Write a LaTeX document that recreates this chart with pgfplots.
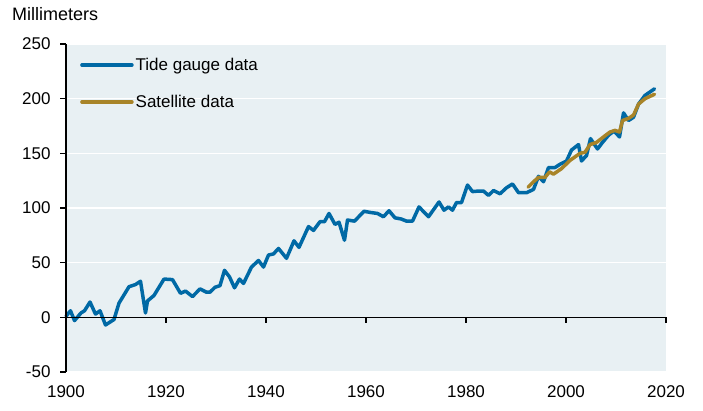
\documentclass[border=0pt]{standalone}
\usepackage{pgfplots}
\pgfplotsset{compat=1.18}
\usepackage{fontspec}
\setmainfont{Liberation Sans}
\usetikzlibrary{calc}
\definecolor{tideblue}{RGB}{0,105,165}
\definecolor{satgold}{RGB}{168,132,40}
\definecolor{bgblue}{RGB}{232,240,243}
\begin{document}
\begin{tikzpicture}
\begin{axis}[
  name=ax,
  scale only axis,
  width=600pt, height=328pt,
  xmin=1900, xmax=2020, ymin=-50, ymax=250,
  xtick={1900,1920,...,2020},
  ytick={-50,0,...,250},
  /pgf/number format/assume math mode=true,
  /pgf/number format/1000 sep={},
  axis x line*=bottom,
  axis y line*=left,
  x axis line style={draw=none},
  y axis line style={draw=none},
  xtick style={draw=none},
  ytick style={draw=none},
  ymajorgrids,
  grid style={white, line width=1.5pt},
  axis background/.style={fill=bgblue},
  tick label style={font=\fontsize{17}{20}\selectfont, text=black},
  y tick label style={anchor=east, xshift=-12pt},
  x tick label style={anchor=north, yshift=-10pt},
  legend style={draw=none, fill=none, at={(0,1)}, anchor=north west,
    xshift=14pt, yshift=-12pt, font=\fontsize{17}{20}\selectfont,
    row sep=19pt, inner sep=0pt},
  legend cell align=left,
  legend image code/.code={\draw[#1, line width=3.5pt] (0pt,0pt) -- (50pt,0pt);},
  clip=false,
]
\addplot[tideblue, line width=3.5pt, line join=round, line cap=round] coordinates {
(1900.0,1) (1900.9,6) (1901.7,-3) (1903.0,4) (1903.7,6) (1904.8,14) (1905.9,3)
(1906.8,6) (1907.9,-7) (1909.6,-2) (1910.6,13) (1912.6,28) (1913.9,30) (1914.9,33)
(1915.9,4) (1916.3,15) (1917.6,20) (1919.6,35) (1921.3,34.5) (1922.9,22) (1923.9,24)
(1925.3,19) (1926.8,26) (1928.1,23) (1928.8,23) (1929.8,27.5) (1930.8,29) (1931.7,43)
(1932.7,37) (1933.7,27) (1934.7,35) (1935.5,31) (1937.1,46) (1938.5,52) (1939.5,46)
(1940.5,57) (1941.5,58) (1942.5,63) (1944.1,54) (1945.6,70) (1946.6,64) (1948.5,83)
(1949.5,79.5) (1950.8,87.5) (1951.7,87.5) (1952.6,95) (1953.8,85) (1954.6,87)
(1955.7,70.5) (1956.3,89) (1957.7,88) (1959.6,97) (1960.8,96) (1962.3,95) (1963.5,92)
(1964.6,97.5) (1965.8,91) (1967.0,90) (1968.1,88) (1969.3,88) (1970.6,101) (1972.5,92)
(1974.6,105.5) (1975.6,98) (1976.5,101) (1977.3,98) (1978.1,105) (1979.1,105)
(1980.3,121) (1981.3,115) (1982.5,115.5) (1983.5,115.5) (1984.5,111.5) (1985.5,116)
(1986.8,113) (1988.1,118.5) (1989.3,122) (1990.5,114) (1992.1,114) (1993.5,117)
(1994.5,129) (1995.5,124) (1996.5,137) (1997.8,137) (1998.8,140) (2000.1,143)
(2001.1,153) (2002.5,158) (2003.1,143) (2004.1,148) (2004.9,163.5) (2006.3,154)
(2007.3,160) (2008.5,166.5) (2009.6,170.5) (2010.7,165) (2011.5,187) (2012.5,180)
(2013.5,183) (2014.5,195) (2015.8,203) (2017.7,209)
};
\addlegendentry{Tide gauge data}
\addplot[satgold, line width=3.5pt, line join=round, line cap=round] coordinates {
(1992.4,119) (1993.5,124) (1994.5,128) (1995.8,128) (1996.7,133) (1997.5,131)
(1999.1,136) (2000.8,143.5) (2002.8,150) (2003.8,151) (2004.8,158) (2006.1,160)
(2007.5,165) (2008.8,169.5) (2009.8,171) (2010.7,169.5) (2011.3,180) (2012.5,182)
(2013.5,185) (2014.5,195) (2015.8,200) (2017.7,204)
};
\addlegendentry{Satellite data}
\draw[black, line width=1.3pt] (axis cs:1900,0) -- (axis cs:2020,0);
\draw[black, line width=1.3pt] (axis cs:1900,-50) -- (axis cs:1900,250);
\pgfplotsinvokeforeach{1920,1940,1960,1980,2000,2020}{
  \draw[black, line width=1.3pt] (axis cs:#1,0) -- ([yshift=-6pt]axis cs:#1,0);
}
\pgfplotsinvokeforeach{-50,0,50,100,150,200,250}{
  \draw[black, line width=1.3pt] (axis cs:1900,#1) -- ([xshift=-6pt]axis cs:1900,#1);
}
\end{axis}
\node[anchor=base west, font=\fontsize{18}{21}\selectfont, inner sep=0pt]
  at ($(ax.north west)+(-54pt,24pt)$) {Millimeters};
\pgfresetboundingbox
\path[use as bounding box] ($(ax.south west)+(-66pt,-38pt)$) rectangle ($(ax.north east)+(37pt,44pt)$);
\end{tikzpicture}
\end{document}
